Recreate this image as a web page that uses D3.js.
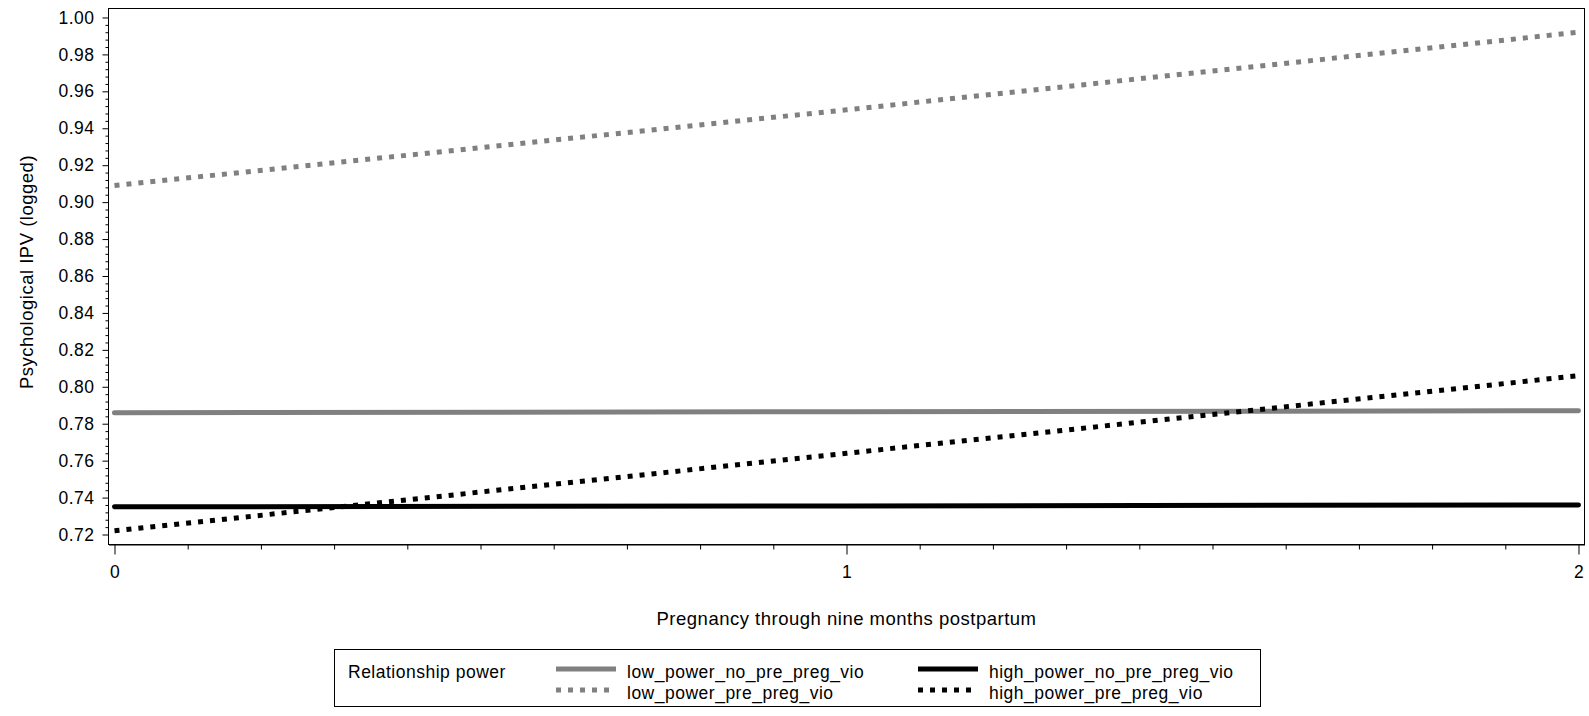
<!DOCTYPE html>
<html>
<head>
<meta charset="utf-8">
<script src="https://cdn.jsdelivr.net/npm/d3@7"></script>
<style>
  html, body { margin: 0; padding: 0; background: #fff; }
  svg text { font-family: "Liberation Sans", Arial, sans-serif; letter-spacing: 0.5px; fill: #000; }
</style>
</head>
<body>
<svg id="chart" width="1589" height="716"></svg>
<script>
// ---- data ----
const timePoints = [0, 1, 2];
const lowPowerNoPre = [0.786, 0.7865, 0.787];
const lowPowerPre = [0.909, 0.950, 0.992];
const highPowerNoPre = [0.735, 0.7355, 0.736];
const highPowerPre = [0.722, 0.764, 0.806];
const seriesNames = ["low_power_no_pre_preg_vio", "low_power_pre_preg_vio", "high_power_no_pre_preg_vio", "high_power_pre_preg_vio"];
const yTickValues = [0.72, 0.74, 0.76, 0.78, 0.80, 0.82, 0.84, 0.86, 0.88, 0.90, 0.92, 0.94, 0.96, 0.98, 1.00];
const xTickValues = [0, 1, 2];
const xLabel = "Pregnancy through nine months postpartum";
const yLabel = "Psychological IPV (logged)";
const legendTitle = "Relationship power";

const series = [
  {name: seriesNames[0], values: lowPowerNoPre, color: "#808080", dash: null},
  {name: seriesNames[1], values: lowPowerPre, color: "#808080", dash: "5,7"},
  {name: seriesNames[2], values: highPowerNoPre, color: "#000000", dash: null},
  {name: seriesNames[3], values: highPowerPre, color: "#000000", dash: "5,7"}
];

const svg = d3.select("#chart");
const L = 108.5, R = 1584.5, T = 8.5, B = 544.5;

const x = d3.scaleLinear().domain([-0.0082, 2.0082]).range([L, R]);
const y = d3.scaleLinear().domain([0.71459, 1.00486]).range([B, T]);

// frame
svg.append("rect").attr("x", L).attr("y", T).attr("width", R - L).attr("height", B - T)
  .attr("fill", "none").attr("stroke", "#000").attr("stroke-width", 1);

// y minor ticks
const yMinor = d3.range(0, 71).map(i => +(0.72 + i * 0.004).toFixed(3)).filter(v => !yTickValues.some(t => Math.abs(t - v) < 1e-9));
svg.append("g").attr("transform", `translate(${L},0)`)
  .call(d3.axisLeft(y).tickValues(yMinor).tickSize(3).tickSizeOuter(0).tickFormat(""))
  .call(g => g.select(".domain").remove())
  .call(g => g.selectAll("line").attr("stroke", "#000"));
// y major axis
const yAxisG = svg.append("g").attr("transform", `translate(${L},0)`)
  .call(d3.axisLeft(y).tickValues(yTickValues).tickSize(6).tickSizeOuter(0).tickPadding(8).tickFormat(d3.format(".2f")));
yAxisG.select(".domain").attr("d", `M0,${y(1.00)}V${B}`).attr("stroke", "#000");
yAxisG.selectAll("line").attr("stroke", "#000");
yAxisG.selectAll("text").style("font-size", "17.5px").attr("font-family", null);

// x minor ticks
const xMinor = d3.range(0, 21).map(i => +(i * 0.1).toFixed(1)).filter(v => !xTickValues.includes(v));
svg.append("g").attr("transform", `translate(0,${B})`)
  .call(d3.axisBottom(x).tickValues(xMinor).tickSize(5).tickSizeOuter(0).tickFormat(""))
  .call(g => g.select(".domain").remove())
  .call(g => g.selectAll("line").attr("stroke", "#000"));
const xAxisG = svg.append("g").attr("transform", `translate(0,${B})`)
  .call(d3.axisBottom(x).tickValues(xTickValues).tickSize(10).tickSizeOuter(0).tickPadding(11).tickFormat(d3.format("d")));
xAxisG.select(".domain").attr("stroke", "#000");
xAxisG.selectAll("line").attr("stroke", "#000");
xAxisG.selectAll("text").style("font-size", "17.5px").attr("font-family", null);

// axis labels
svg.append("text").attr("x", (L + R) / 2).attr("y", 625).attr("text-anchor", "middle")
  .style("font-size", "18.5px").text(xLabel);
svg.append("text").attr("transform", "translate(33,272) rotate(-90)").attr("text-anchor", "middle")
  .style("font-size", "18.5px").text(yLabel);

// lines
const line = d3.line().x((d, i) => x(timePoints[i])).y(d => y(d));
const clip = svg.append("clipPath").attr("id", "plotclip").append("rect")
  .attr("x", L).attr("y", T).attr("width", R - L).attr("height", B - T);
const order = [0, 2, 1, 3];
svg.append("g").attr("clip-path", "url(#plotclip)")
  .selectAll("path").data(order.map(i => series[i])).join("path")
  .attr("d", s => line(s.values))
  .attr("fill", "none")
  .attr("stroke", s => s.color)
  .attr("stroke-width", 5)
  .attr("stroke-linecap", s => s.dash ? "butt" : "round")
  .attr("stroke-dasharray", s => s.dash);

// legend
const lg = svg.append("g");
lg.append("rect").attr("x", 334.5).attr("y", 649.5).attr("width", 926).attr("height", 57)
  .attr("fill", "#fff").attr("stroke", "#000").attr("stroke-width", 1);
lg.append("text").attr("x", 348).attr("y", 678).style("font-size", "17.5px").text(legendTitle);
const legendPos = [
  {sx: 556, ty: 678, ly: 669},
  {sx: 556, ty: 699, ly: 690},
  {sx: 918, ty: 678, ly: 669},
  {sx: 918, ty: 699, ly: 690}
];
series.forEach((s, i) => {
  const p = legendPos[i];
  lg.append("line").attr("x1", p.sx).attr("x2", p.sx + 60).attr("y1", p.ly).attr("y2", p.ly)
    .attr("stroke", s.color).attr("stroke-width", 5).attr("stroke-dasharray", s.dash);
  lg.append("text").attr("x", p.sx + 71).attr("y", p.ty).style("font-size", "17.5px").text(s.name);
});
</script>
</body>
</html>
